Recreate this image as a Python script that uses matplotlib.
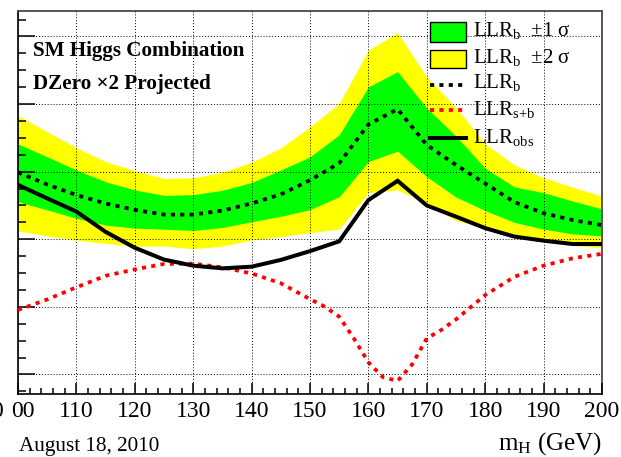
import matplotlib
matplotlib.use("Agg")
import matplotlib.pyplot as plt
from matplotlib.patches import Rectangle
from matplotlib.lines import Line2D
from matplotlib.ticker import MultipleLocator, FixedLocator, FixedFormatter

plt.rcParams["font.family"] = ["Liberation Serif", "DejaVu Serif"]
plt.rcParams["mathtext.fontset"] = "custom"
plt.rcParams["mathtext.rm"] = "Liberation Serif"
plt.rcParams["mathtext.it"] = "Liberation Serif:italic"
plt.rcParams["mathtext.bf"] = "Liberation Serif:bold"

# Higgs mass points (GeV)
masses = [100, 105, 110, 115, 120, 125, 130, 135, 140, 145, 150,
          155, 160, 165, 170, 175, 180, 185, 190, 195, 200]

# Expected background-only LLR and its 1/2 sigma bands
llr_b = [1.98, 1.62, 1.31, 1.06, 0.87, 0.73, 0.73, 0.85, 1.06, 1.33, 1.75,
         2.25, 3.40, 3.85, 2.79, 2.20, 1.65, 1.10, 0.77, 0.57, 0.42]
one_sigma_hi = [2.82, 2.44, 2.05, 1.70, 1.46, 1.30, 1.32, 1.45, 1.68, 2.05, 2.44,
                3.09, 4.51, 4.96, 3.88, 3.05, 2.10, 1.55, 1.38, 1.13, 0.90]
one_sigma_lo = [1.11, 0.87, 0.62, 0.42, 0.33, 0.30, 0.26, 0.35, 0.52, 0.68, 0.88,
                1.26, 2.30, 2.61, 1.85, 1.25, 0.85, 0.50, 0.30, 0.16, 0.10]
two_sigma_hi = [3.66, 3.18, 2.71, 2.30, 2.03, 1.80, 1.82, 1.98, 2.28, 2.70, 3.33,
                4.02, 5.60, 6.11, 4.80, 3.90, 2.82, 2.20, 1.82, 1.54, 1.28]
two_sigma_lo = [0.25, 0.10, -0.02, -0.12, -0.20, -0.20, -0.28, -0.20, -0.02, 0.08, 0.20,
                0.30, 1.38, 1.46, 1.05, 0.55, 0.35, 0.15, -0.02, -0.18, -0.25]

# Observed LLR
llr_obs = [1.61, 1.21, 0.82, 0.22, -0.25, -0.60, -0.78, -0.86, -0.81, -0.61, -0.35,
           -0.06, 1.16, 1.73, 1.00, 0.67, 0.33, 0.08, -0.04, -0.14, -0.14]

# Expected signal+background LLR
sb_masses = [100, 105, 110, 115, 120, 125, 130, 135, 140, 145, 150, 152.5, 155,
             157.5, 160, 162.5, 165, 167.5, 170, 172.5, 175, 180, 185, 190, 195, 200]
llr_sb = [-2.09, -1.78, -1.42, -1.08, -0.89, -0.73, -0.72, -0.83, -1.01, -1.30, -1.77,
          -1.99, -2.29, -2.93, -3.64, -4.08, -4.19, -3.70, -2.93, -2.68, -2.37,
          -1.65, -1.11, -0.78, -0.56, -0.43]

x_ticks = [100, 110, 120, 130, 140, 150, 160, 170, 180, 190, 200]
x_tick_labels = ["", "110", "120", "130", "140", "150", "160", "170", "180", "190", "200"]

W, H = 621, 457
fig = plt.figure(figsize=(W / 100, H / 100), dpi=100)
x0, x1, ytop, ybot = 18, 602, 11, 394
ax = fig.add_axes([x0 / W, (H - ybot) / H, (x1 - x0) / W, (ybot - ytop) / H])

GREEN = "#00ff00"
YELLOW = "#ffff00"

ax.fill_between(masses, two_sigma_lo, two_sigma_hi, color=YELLOW, lw=0, zorder=1)
ax.fill_between(masses, one_sigma_lo, one_sigma_hi, color=GREEN, lw=0, zorder=1.1)

dot_style = (0, (1.1, 1.4))
ax.plot(sb_masses, llr_sb, color="#ff0000", lw=2.7, linestyle=dot_style, zorder=3)
ax.plot(masses, llr_b, color="black", lw=2.7, linestyle=dot_style, zorder=3)
ax.plot(masses, llr_obs, color="black", lw=2.9, solid_joinstyle="miter", zorder=3.2)

ax.set_xlim(100, 200)
ax.set_ylim(-4.577, 6.754)

ax.xaxis.set_major_locator(FixedLocator(x_ticks))
ax.xaxis.set_major_formatter(FixedFormatter(x_tick_labels))
ax.xaxis.set_minor_locator(MultipleLocator(2))
ax.yaxis.set_major_locator(MultipleLocator(2))
ax.yaxis.set_minor_locator(MultipleLocator(0.5))
ax.set_yticklabels([])
ax.tick_params(axis="both", which="both", direction="in", top=False, right=False,
               width=1.1, color="black")
ax.tick_params(axis="x", which="major", length=8, pad=5, labelsize=17)
ax.tick_params(axis="x", which="minor", length=4.3)
ax.tick_params(axis="y", which="major", length=12, labelleft=False)
ax.tick_params(axis="y", which="minor", length=5.8)

ax.set_axisbelow(False)
ax.grid(which="major", color="black", linestyle=(0, (1, 2)), linewidth=0.7, zorder=2)

for side in ["left", "bottom"]:
    ax.spines[side].set_linewidth(1.2)
    ax.spines[side].set_color("black")
for side in ["top", "right"]:
    ax.spines[side].set_linewidth(1.4)
    ax.spines[side].set_color("#555555")


def fa(px, py):
    """Pixel position on the canvas -> axes fraction."""
    return (px - x0) / (x1 - x0), (ybot - py) / (ybot - ytop)


# Legend
leg_fs = 15
for (top, bot), col in [((22, 42), GREEN), ((50, 68), YELLOW)]:
    lx, ly = fa(430, bot)
    rx, ry = fa(466, top)
    ax.add_patch(Rectangle((lx, ly), rx - lx, ry - ly, transform=ax.transAxes,
                           facecolor=col, edgecolor="black", lw=1.0, zorder=5,
                           clip_on=False))
for yy, col, ls, lw in [(85, "black", dot_style, 2.7), (110, "#ff0000", dot_style, 2.7),
                        (138, "black", "-", 2.9)]:
    ax_a = fa(430, yy)
    ax_b = fa(466, yy)
    ax.add_line(Line2D([ax_a[0], ax_b[0]], [ax_a[1], ax_b[1]], transform=ax.transAxes,
                       color=col, linestyle=ls, lw=lw, zorder=5, clip_on=False))
labels = [r"LLR$_{\mathrm{b}}$  ±1 σ", r"LLR$_{\mathrm{b}}$  ±2 σ", r"LLR$_{\mathrm{b}}$",
          r"LLR$_{\mathrm{s{+}b}}$", r"LLR$_{\mathrm{obs}}$"]
for lab, base in zip(labels, [36, 63, 88, 115, 143]):
    tx, ty = fa(473, base)
    ax.text(tx, ty, lab, transform=ax.transAxes, fontsize=leg_fs, va="baseline",
            ha="left", zorder=6)

# Heading text
fig.text(33 / W, (H - 56) / H, "SM Higgs Combination", fontsize=15.2,
         fontweight="bold", va="baseline", ha="left")
fig.text(33 / W, (H - 89) / H, "DZero ×2 Projected", fontsize=15.2,
         fontweight="bold", va="baseline", ha="left")

# First mass label sits partly off the left edge
fig.text(35 / W, (H - 417) / H, "00", fontsize=17, va="baseline", ha="right")
fig.text(3 / W, (H - 417) / H, "0", fontsize=17, va="baseline", ha="right")

fig.text(602 / W, (H - 450) / H, r"m$_{\mathrm{H}}$ (GeV)", fontsize=18,
         va="baseline", ha="right")
fig.text(19 / W, (H - 451) / H, "August 18, 2010", fontsize=15.2,
         va="baseline", ha="left")

fig.savefig("out.png", dpi=100)
